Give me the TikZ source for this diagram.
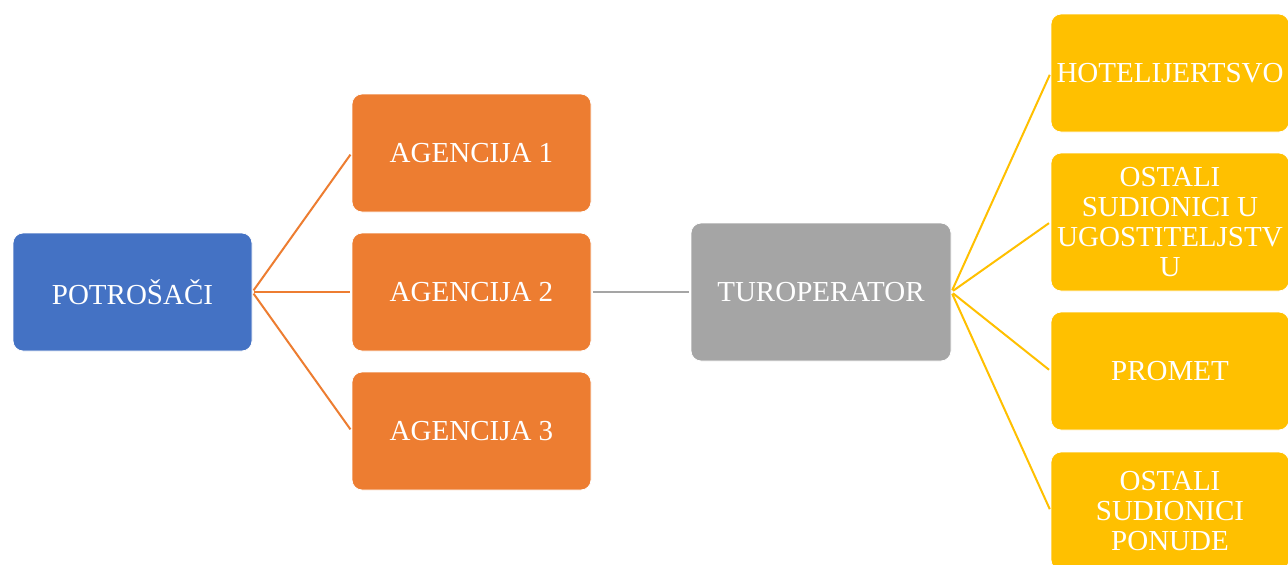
\documentclass[tikz,border=0pt]{standalone}
\usepackage{fontspec}
\setmainfont{Liberation Serif}
\definecolor{cblue}{HTML}{4472C4}
\definecolor{corange}{HTML}{ED7D31}
\definecolor{cgray}{HTML}{A5A5A5}
\definecolor{cyellow}{HTML}{FFC000}
\begin{document}
\begin{tikzpicture}[x=1pt,y=-1pt,
  box/.style={rectangle, rounded corners=10pt, inner sep=0pt, text=white, align=center,
    minimum width=239pt, minimum height=118pt, draw=white, line width=0.8pt,
    font=\fontsize{29}{30}\selectfont},
  link/.style={line width=2pt, shorten <=2pt, shorten >=2pt}]
\clip (0,0) rectangle (1288,565);
\fill[white] (0,0) rectangle (1288,565);
\node[box, fill=cblue] (pot) at (132.5,292) {POTROŠAČI};
\node[box, fill=corange] (ag1) at (471.5,153) {AGENCIJA 1};
\node[box, fill=corange] (ag2) at (471.5,292) {AGENCIJA 2};
\node[box, fill=corange] (ag3) at (471.5,431) {AGENCIJA 3};
\node[box, fill=cgray, minimum width=260pt, minimum height=138pt] (tur) at (821,292) {TUROPERATOR};
\node[box, fill=cyellow, minimum width=238pt] (r1) at (1170,73) {HOTELIJERTSVO};
\node[box, fill=cyellow, minimum width=238pt, minimum height=138pt] (r2) at (1170,222) {OSTALI\\SUDIONICI U\\UGOSTITELJSTV\\U};
\node[box, fill=cyellow, minimum width=238pt] (r3) at (1170,371) {PROMET};
\node[box, fill=cyellow, minimum width=238pt] (r4) at (1170,511) {OSTALI\\SUDIONICI\\PONUDE};
\foreach \a in {ag1,ag2,ag3} \draw[link, corange] (pot.east) -- (\a.west);
\draw[link, cgray] (ag2.east) -- (tur.west);
\foreach \r in {r1,r2,r3,r4} \draw[link, cyellow] (tur.east) -- (\r.west);
\end{tikzpicture}
\end{document}
